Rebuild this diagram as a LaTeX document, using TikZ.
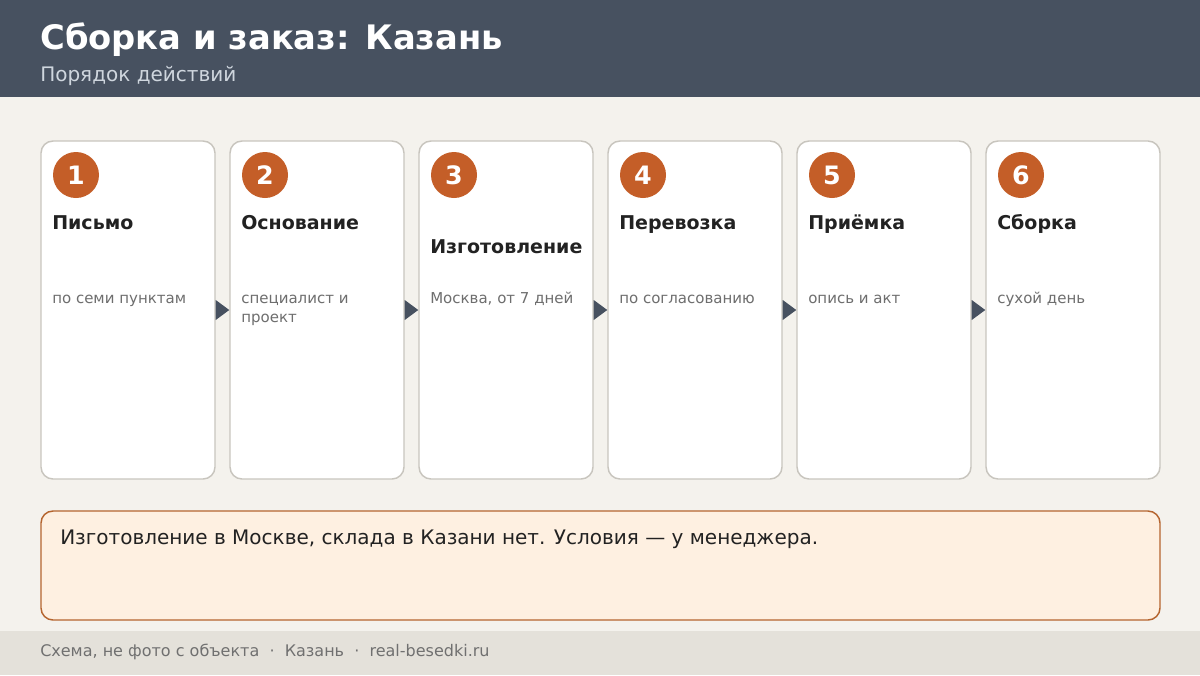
\documentclass[tikz,border=0pt]{standalone}
\usepackage{fontspec}
\setmainfont{DejaVu Sans}
\usetikzlibrary{calc}
\definecolor{headbg}{HTML}{475160}
\definecolor{headsub}{HTML}{CFD6DE}
\definecolor{pagebg}{HTML}{F4F2ED}
\definecolor{footbg}{HTML}{E4E1DA}
\definecolor{foottext}{HTML}{707070}
\definecolor{cardline}{HTML}{C8C5BE}
\definecolor{badgebg}{HTML}{C45E28}
\definecolor{titletext}{HTML}{222222}
\definecolor{desctext}{HTML}{6E6E6E}
\definecolor{notebg}{HTML}{FEF0E1}
\definecolor{noteline}{HTML}{B5652F}

\begin{document}
\begin{tikzpicture}[x=0.75pt, y=-0.75pt, font=\small]
    \tikzset{
      card/.style={draw=cardline, line width=1.1pt, fill=white, rounded corners=9pt,
        minimum width=130.5pt, minimum height=253.5pt, inner sep=0pt},
      badge/.style={circle, fill=badgebg, text=white, minimum size=34.5pt, inner sep=0pt,
        font=\fontsize{19}{21}\selectfont\bfseries},
      steptitle/.style={anchor=base west, inner sep=0pt, text=titletext,
        font=\fontsize{14.25}{17}\selectfont\bfseries},
      stepnote/.style={anchor=base west, inner sep=0pt, align=left, text=desctext,
        font=\fontsize{11.25}{14.25}\selectfont},
      pointer/.style={fill=headbg}
    }
    \useasboundingbox (0,0) rectangle (1200,675);
    \fill[pagebg] (0,0) rectangle (1200,675);
    \fill[headbg] (0,0) rectangle (1200,97);
    \fill[footbg] (0,631) rectangle (1200,675);

    \node[anchor=base west, inner sep=0pt, text=white, font=\fontsize{25.3}{30}\selectfont\bfseries]
      (head) at (40,49) {Сборка и заказ: Казань};
    \node[anchor=base west, inner sep=0pt, text=headsub, font=\fontsize{15}{18}\selectfont]
      (subhead) at (40,81) {Порядок действий};

    \node[card] (c1) at (128,310) {};
    \node[card] (c2) at (317,310) {};
    \node[card] (c3) at (506,310) {};
    \node[card] (c4) at (695,310) {};
    \node[card] (c5) at (884,310) {};
    \node[card] (c6) at (1073,310) {};

    \node[badge] (b1) at (76,175) {1};
    \node[badge] (b2) at (265,175) {2};
    \node[badge] (b3) at (454,175) {3};
    \node[badge] (b4) at (643,175) {4};
    \node[badge] (b5) at (832,175) {5};
    \node[badge] (b6) at (1021,175) {6};

    \node[steptitle] (t1) at (52,229.5) {Письмо};
    \node[steptitle] (t2) at (241,229.5) {Основание};
    \node[steptitle] (t3) at (430,253.5) {Изготовление};
    \node[steptitle] (t4) at (619,229.5) {Перевозка};
    \node[steptitle] (t5) at (808,229.5) {Приёмка};
    \node[steptitle] (t6) at (997,229.5) {Сборка};

    \node[stepnote] (d1) at (52,303.5) {по семи пунктам};
    \node[stepnote] (d2) at (241,322.5) {специалист и\\проект};
    \node[stepnote] (d3) at (430,303.5) {Москва, от 7 дней};
    \node[stepnote] (d4) at (619,303.5) {по согласованию};
    \node[stepnote] (d5) at (808,303.5) {опись и акт};
    \node[stepnote] (d6) at (997,303.5) {сухой день};

    \fill[pointer] ($(c1.east)+(0,-10)$) -- (c2.west) -- ($(c1.east)+(0,10)$) -- cycle;
    \fill[pointer] ($(c2.east)+(0,-10)$) -- (c3.west) -- ($(c2.east)+(0,10)$) -- cycle;
    \fill[pointer] ($(c3.east)+(0,-10)$) -- (c4.west) -- ($(c3.east)+(0,10)$) -- cycle;
    \fill[pointer] ($(c4.east)+(0,-10)$) -- (c5.west) -- ($(c4.east)+(0,10)$) -- cycle;
    \fill[pointer] ($(c5.east)+(0,-10)$) -- (c6.west) -- ($(c5.east)+(0,10)$) -- cycle;

    \node[draw=noteline, line width=1.1pt, fill=notebg, rounded corners=9pt,
      minimum width=839.25pt, minimum height=81.75pt, inner sep=0pt] (note) at (600.5,565.5) {};
    \node[anchor=base west, inner sep=0pt, text=titletext, font=\fontsize{15}{18}\selectfont]
      (notetext) at (60,544) {Изготовление в Москве, склада в Казани нет. Условия — у менеджера.};

    \node[anchor=base west, inner sep=0pt, text=foottext, font=\fontsize{12}{14}\selectfont]
      (foot) at (40,656) {Схема, не фото с объекта~~·~~Казань~~·~~real-besedki.ru};
\end{tikzpicture}
\end{document}
